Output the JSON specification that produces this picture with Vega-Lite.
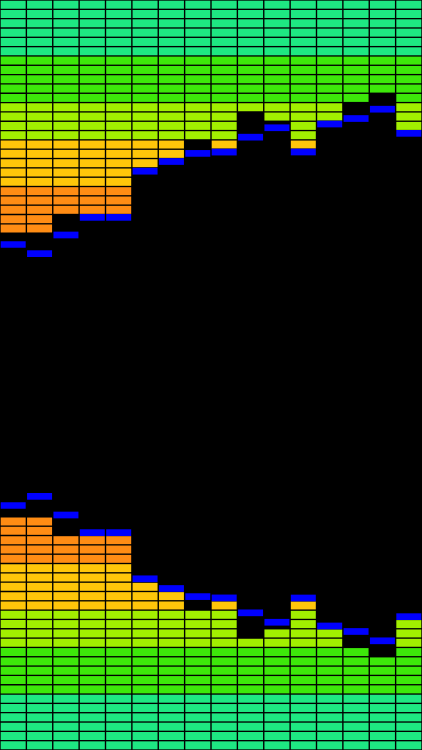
{
  "$schema": "https://vega.github.io/schema/vega-lite/v6.json",
  "background": "black",
  "padding": 0,
  "spacing": 4,
  "config": {"view": {"stroke": null}},
  "datasets": {
    "bars": [
      {"c": 0, "level": 25, "peak": 25.72, "segs": [0,1,2,3,4,5,6,7,8,9,10,11,12,13,14,15,16,17,18,19,20,21,22,23,24]},
      {"c": 1, "level": 25, "peak": 26.7, "segs": [0,1,2,3,4,5,6,7,8,9,10,11,12,13,14,15,16,17,18,19,20,21,22,23,24]},
      {"c": 2, "level": 23, "peak": 24.7, "segs": [0,1,2,3,4,5,6,7,8,9,10,11,12,13,14,15,16,17,18,19,20,21,22]},
      {"c": 3, "level": 23, "peak": 22.81, "segs": [0,1,2,3,4,5,6,7,8,9,10,11,12,13,14,15,16,17,18,19,20,21,22]},
      {"c": 4, "level": 23, "peak": 22.81, "segs": [0,1,2,3,4,5,6,7,8,9,10,11,12,13,14,15,16,17,18,19,20,21,22]},
      {"c": 5, "level": 18, "peak": 17.86, "segs": [0,1,2,3,4,5,6,7,8,9,10,11,12,13,14,15,16,17]},
      {"c": 6, "level": 17, "peak": 16.82, "segs": [0,1,2,3,4,5,6,7,8,9,10,11,12,13,14,15,16]},
      {"c": 7, "level": 15, "peak": 15.95, "segs": [0,1,2,3,4,5,6,7,8,9,10,11,12,13,14]},
      {"c": 8, "level": 16, "peak": 15.81, "segs": [0,1,2,3,4,5,6,7,8,9,10,11,12,13,14,15]},
      {"c": 9, "level": 12, "peak": 14.21, "segs": [0,1,2,3,4,5,6,7,8,9,10,11]},
      {"c": 10, "level": 13, "peak": 13.2, "segs": [0,1,2,3,4,5,6,7,8,9,10,11,12]},
      {"c": 11, "level": 16, "peak": 15.8, "segs": [0,1,2,3,4,5,6,7,8,9,10,11,12,13,14,15]},
      {"c": 12, "level": 13, "peak": 12.8, "segs": [0,1,2,3,4,5,6,7,8,9,10,11,12]},
      {"c": 13, "level": 11, "peak": 12.21, "segs": [0,1,2,3,4,5,6,7,8,9,10]},
      {"c": 14, "level": 10, "peak": 11.21, "segs": [0,1,2,3,4,5,6,7,8,9]},
      {"c": 15, "level": 14, "peak": 13.8, "segs": [0,1,2,3,4,5,6,7,8,9,10,11,12,13]}
    ]
  },
  "vconcat": [
    {
      "width": 422,
      "height": 373,
      "data": {"name": "bars"},
      "layer": [
        {
          "transform": [{"flatten": ["segs"], "as": ["r"]}],
          "mark": {"type": "tick", "thickness": 8, "size": 25, "opacity": 1},
          "encoding": {
            "x": {"field": "c", "type": "ordinal", "scale": {"type": "band", "paddingInner": 0.05, "paddingOuter": 0.025}, "axis": null},
            "y": {"field": "r", "type": "quantitative", "scale": {"domain": [-0.5, 39.5], "reverse": true, "nice": false, "zero": false}, "axis": null},
            "color": {"field": "r", "type": "quantitative", "scale": {"type": "threshold", "domain": [6, 11, 15, 20], "range": ["#1ee882", "#3de80a", "#a2ef00", "#ffc60a", "#ff8c14"]}, "legend": null}
          }
        },
        {
          "mark": {"type": "tick", "thickness": 6.7, "size": 25, "opacity": 1, "color": "#0000ff"},
          "encoding": {
            "x": {"field": "c", "type": "ordinal", "scale": {"type": "band", "paddingInner": 0.05, "paddingOuter": 0.025}, "axis": null},
            "y": {"field": "peak", "type": "quantitative", "scale": {"domain": [-0.5, 39.5], "reverse": true, "nice": false, "zero": false}, "axis": null}
          }
        }
      ]
    },
    {
      "width": 422,
      "height": 373,
      "data": {"name": "bars"},
      "layer": [
        {
          "transform": [{"flatten": ["segs"], "as": ["r"]}],
          "mark": {"type": "tick", "thickness": 8, "size": 25, "opacity": 1},
          "encoding": {
            "x": {"field": "c", "type": "ordinal", "scale": {"type": "band", "paddingInner": 0.05, "paddingOuter": 0.025}, "axis": null},
            "y": {"field": "r", "type": "quantitative", "scale": {"domain": [-0.5, 39.5], "nice": false, "zero": false}, "axis": null},
            "color": {"field": "r", "type": "quantitative", "scale": {"type": "threshold", "domain": [6, 11, 15, 20], "range": ["#1ee882", "#3de80a", "#a2ef00", "#ffc60a", "#ff8c14"]}, "legend": null}
          }
        },
        {
          "mark": {"type": "tick", "thickness": 6.7, "size": 25, "opacity": 1, "color": "#0000ff"},
          "encoding": {
            "x": {"field": "c", "type": "ordinal", "scale": {"type": "band", "paddingInner": 0.05, "paddingOuter": 0.025}, "axis": null},
            "y": {"field": "peak", "type": "quantitative", "scale": {"domain": [-0.5, 39.5], "nice": false, "zero": false}, "axis": null}
          }
        }
      ]
    }
  ]
}
